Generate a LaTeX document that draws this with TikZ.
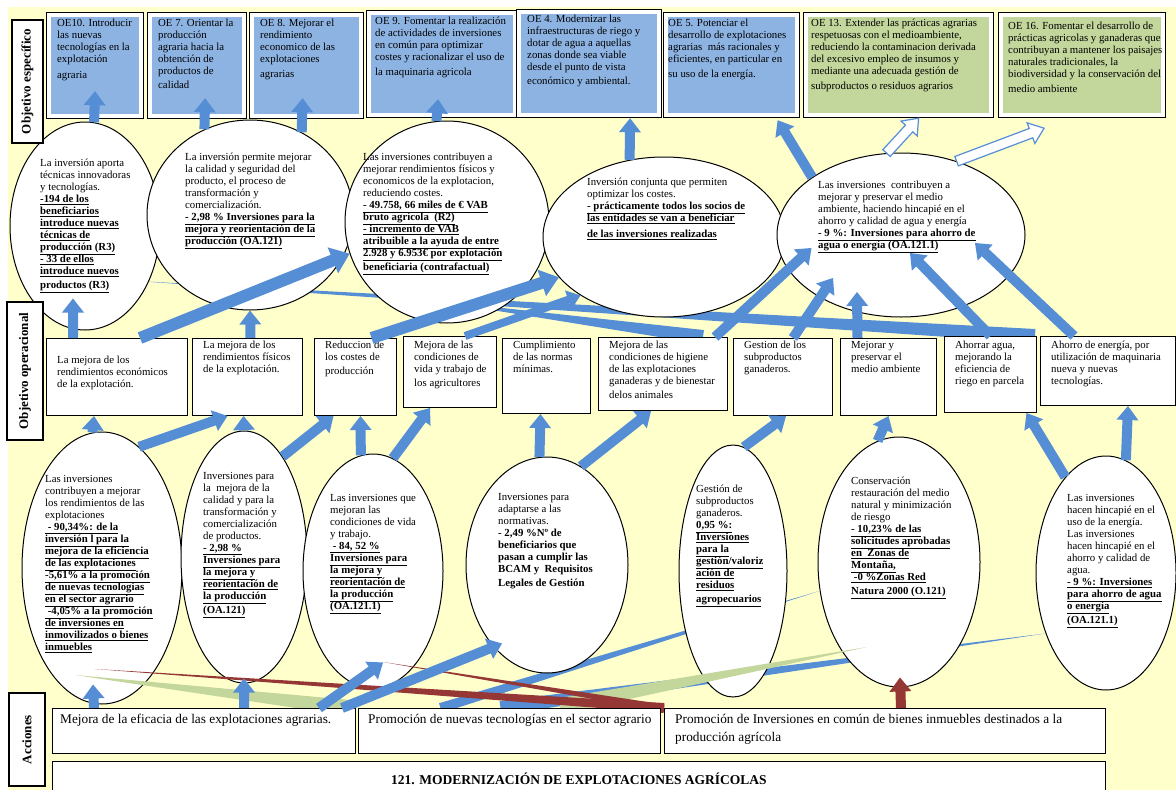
\documentclass[tikz,border=0pt]{standalone}
\usepackage{fontspec}
\setmainfont{Liberation Serif}
\usetikzlibrary{arrows.meta,positioning,shapes.geometric,calc}
\definecolor{bgyellow}{HTML}{FFFFCC}
\definecolor{oeblue}{HTML}{8DB3E2}
\definecolor{oegreen}{HTML}{C3D69B}
\definecolor{arrowblue}{HTML}{558ED5}
\definecolor{darkred}{HTML}{953735}

\pgfdeclarelayer{back}
\pgfdeclarelayer{wedges}
\pgfdeclarelayer{ovals}
\pgfdeclarelayer{topwedges}
\pgfsetlayers{back,wedges,ovals,topwedges,main}

\newcommand{\bul}[1]{\underline{\textbf{#1}}}

% sizes of the block arrows
\def\bashaft{5pt}\def\bahead{11pt}\def\bahl{14pt}
\tikzset{
  bapaint/.style={fill=arrowblue},
  ba shaft/.code={\def\bashaft{#1}},
  ba head/.code={\def\bahead{#1}},
  ba headlen/.code={\def\bahl{#1}},
  hollow/.style={bapaint/.style={fill=white, draw=arrowblue, line width=1.2pt}},
  redarrow/.style={bapaint/.style={fill=darkred}},
  bigarrow/.style={ba shaft=6pt, ba head=14pt, ba headlen=18pt},
  slimarrow/.style={ba shaft=4pt, ba head=10pt, ba headlen=13pt},
  txt/.style={font=\fontsize{10.8}{12}\selectfont, align=left, inner sep=0pt, anchor=north west},
  atxt/.style={font=\fontsize{13.3}{18}\selectfont, align=left, inner sep=0pt, anchor=north west},
  oebox/.style={draw, line width=1.2pt, fill=white, anchor=north west, inner sep=0pt},
  obox/.style={draw, line width=1pt, fill=white, anchor=north west, inner sep=0pt},
  oval/.style={ellipse, draw, line width=1pt, fill=white, inner sep=0pt},
  lab/.style={draw, line width=1.2pt, fill=white, rotate=90, inner sep=0pt,
    font=\fontsize{13}{15}\selectfont\bfseries},
}

% block arrow from #2 to #3
\newcommand{\blockarr}[3][]{%
  \begin{scope}[#1]
    \coordinate (ba-s) at (#2);
    \coordinate (ba-e) at (#3);
    \coordinate (ba-c) at ($(ba-e)!\bahl!(ba-s)$);
    \path[bapaint] ($(ba-s)!\bashaft!90:(ba-e)$) -- ($(ba-c)!\bashaft!90:(ba-e)$)
      -- ($(ba-c)!\bahead!90:(ba-e)$) -- (ba-e)
      -- ($(ba-c)!\bahead!-90:(ba-e)$) -- ($(ba-c)!\bashaft!-90:(ba-e)$)
      -- ($(ba-s)!\bashaft!-90:(ba-e)$) -- cycle;
  \end{scope}}

% tapered band: thin end #2, wide end #3, half width #4
\newcommand{\taper}[4][fill=arrowblue]{%
  \coordinate (tp-p) at (#2);
  \coordinate (tp-q) at (#3);
  \fill[#1] (tp-p) -- ($(tp-q)!#4!90:(tp-p)$) -- ($(tp-q)!#4!-90:(tp-p)$) -- cycle;}

\begin{document}
\begin{tikzpicture}[x=1pt, y=-1pt]
  \useasboundingbox (0,0) rectangle (1176,790);
  \begin{pgfonlayer}{back}
    \fill[white] (0,0) rectangle (1176,790);
    \fill[bgyellow] (8,7) rectangle (1176,790);
  \end{pgfonlayer}

  % side labels
  \node[lab, minimum width=123, minimum height=31] (labesp) at (27.5,81.5) {Objetivo específico};
  \node[lab, minimum width=138, minimum height=36] (labop) at (25,371) {Objetivo operacional};
  \node[lab, minimum width=93, minimum height=36] (labacc) at (27,739.5) {Acciones};

  % objetivos especificos
  \node[oebox, minimum width=97, minimum height=106] (oe10) at (46,12) {};
  \node[oebox, minimum width=99, minimum height=106] (oe7) at (147,12) {};
  \node[oebox, minimum width=114, minimum height=106] (oe8) at (249,12) {};
  \node[oebox, minimum width=151, minimum height=107] (oe9) at (366,10) {};
  \node[oebox, minimum width=145, minimum height=108] (oe4) at (516,9) {};
  \node[oebox, minimum width=136, minimum height=105] (oe5) at (663,12) {};
  \node[oebox, minimum width=190, minimum height=105] (oe13) at (803,12) {};
  \node[oebox, minimum width=167, minimum height=105] (oe16) at (998,12) {};
  \foreach \b in {oe10,oe7,oe8,oe9,oe4,oe5}
    \fill[oeblue] ($(\b.north west)+(5,5)$) rectangle ($(\b.south east)+(-5,-5)$);
  \foreach \b in {oe13,oe16}
    \fill[oegreen] ($(\b.north west)+(5,5)$) rectangle ($(\b.south east)+(-5,-5)$);
  \node[txt] (oe10t) at (57,19) {OE10. Introducir\\las nuevas\\tecnologías en la\\explotación\\[4pt]agraria};
  \node[txt] (oe7t) at (158,19) {OE 7. Orientar la\\producción\\agraria hacia la\\obtención de\\productos de\\[2pt]calidad};
  \node[txt] (oe8t) at (260,19) {OE 8. Mejorar el\\rendimiento\\economico de las\\explotaciones\\[3pt]agrarias};
  \node[txt] (oe9t) at (375,17) {OE 9. Fomentar la realización\\de actividades de inversiones\\en común para optimizar\\costes y racionalizar el uso de\\[3pt]la maquinaria agricola};
  \node[txt] (oe4t) at (527,15) {OE 4. Modernizar las\\infraestructuras de riego y\\dotar de agua a aquellas\\zonas donde sea viable\\desde el punto de vista\\[2pt]económico y ambiental.};
  \node[txt] (oe5t) at (668,19) {OE 5. Potenciar el\\desarrollo de explotaciones\\agrarias\ \ más racionales y\\eficientes, en particular en\\[3pt]su uso de la energía.};
  \node[txt] (oe13t) at (811,19) {OE 13. Extender las prácticas agrarias\\respetuosas con el medioambiente,\\reduciendo la contaminacion derivada\\del excesivo empleo de insumos y\\mediante una adecuada gestión de\\[3pt]subproductos o residuos agrarios};
  \node[txt] (oe16t) at (1008,22) {OE 16. Fomentar el desarrollo de\\prácticas agricolas y ganaderas que\\contribuyan a mantener los paisajes\\naturales tradicionales, la\\biodiversidad y la conservación del\\[3pt]medio ambiente};

  % resultados (ovals)
  \begin{pgfonlayer}{ovals}
    \node[oval, minimum width=150, minimum height=208] (e1) at (85,226) {};
    \node[oval, minimum width=206, minimum height=190] (e2) at (250,215) {};
    \node[oval, minimum width=204, minimum height=202] (e3) at (447,222) {};
    \node[oval, minimum width=242, minimum height=160] (e4) at (664,237) {};
    \node[oval, minimum width=248, minimum height=164] (e5) at (901,235) {};
    \node[oval, minimum width=160, minimum height=272] (l1) at (102,568) {};
    \node[oval, minimum width=126, minimum height=252] (l2) at (244,557) {};
    \node[oval, minimum width=140, minimum height=234] (l3) at (373,571) {};
    \node[oval, minimum width=162, minimum height=216] (l4) at (547,565) {};
    \node[oval, minimum width=108, minimum height=252] (l5) at (733,571) {};
    \node[oval, minimum width=162, minimum height=250] (l6) at (899,562) {};
    \node[oval, minimum width=140, minimum height=234] (l7) at (1106,573) {};
  \end{pgfonlayer}
  \node[txt] (e1t) at (40,159) {La inversión aporta\\técnicas innovadoras\\y tecnologías.\\\bul{-194 de los}\\\bul{beneficiarios}\\\bul{introduce nuevas}\\\bul{técnicas de}\\\bul{producción (R3)}\\\bul{- 33 de ellos}\\\bul{introduce nuevos}\\[2pt]\bul{productos (R3)}};
  \node[txt] (e2t) at (185,153) {La inversión permite mejorar\\la calidad y seguridad del\\producto, el proceso de\\transformación y\\comercialización.\\\bul{- 2,98 \% Inversiones para la}\\\bul{mejora y reorientación de la}\\\bul{producción (OA.121)}};
  \node[txt] (e3t) at (363,153) {Las inversiones contribuyen a\\mejorar rendimientos físicos y\\economicos de la explotacion,\\reduciendo costes.\\\bul{- 49.758, 66 miles de € VAB}\\\bul{bruto agrícola\ \ (R2)}\\\bul{- incremento de VAB}\\\bul{atribuible a la ayuda de entre}\\\bul{2.928 y 6.953€ por explotación}\\[2pt]\bul{beneficiaria (contrafactual)}};
  \node[txt] (e4t) at (587,178) {Inversión conjunta que permiten\\optimizar los costes.\\\bul{- prácticamente todos los socios de}\\\bul{las entidades se van a beneficiar}\\[4pt]\bul{de las inversiones realizadas}};
  \node[txt] (e5t) at (818,181) {Las inversiones\ \ contribuyen a\\mejorar y preservar el medio\\ambiente, haciendo hincapié en el\\ahorro y calidad de agua y energía\\\bul{- 9 \%: Inversiones para ahorro de}\\\bul{agua o energía (OA.121.1)}};

  % objetivos operacionales
  \node[obox, minimum width=141, minimum height=77] (b1) at (46,338) {};
  \node[obox, minimum width=110, minimum height=77] (b2) at (192,338) {};
  \node[obox, minimum width=82, minimum height=77] (b3) at (314,338) {};
  \node[obox, minimum width=93, minimum height=71] (b4) at (403,336) {};
  \node[obox, minimum width=88, minimum height=75] (b5) at (502,338) {};
  \node[obox, minimum width=129, minimum height=73] (b6) at (598,337) {};
  \node[obox, minimum width=99, minimum height=77] (b7) at (733,338) {};
  \node[obox, minimum width=96, minimum height=77] (b8) at (840,338) {};
  \node[obox, minimum width=92, minimum height=76] (b9) at (944,336) {};
  \node[obox, minimum width=135, minimum height=69] (b10) at (1040,336) {};
  \node[txt] (b1t) at (57,356) {La mejora de los\\rendimientos económicos\\de la explotación.};
  \node[txt] (b2t) at (203,341) {La mejora de los\\rendimientos físicos\\de la explotación.};
  \node[txt] (b3t) at (325,341) {Reduccion de\\los costes de\\[2pt]producción};
  \node[txt] (b4t) at (414,341) {Mejora de las\\condiciones de\\vida y trabajo de\\[2pt]los agricultores};
  \node[txt] (b5t) at (513,341) {Cumplimiento\\de las normas\\mínimas.};
  \node[txt] (b6t) at (609,341) {Mejora de las\\condiciones de higiene\\de las explotaciones\\ganaderas y de bienestar\\[2pt]delos animales};
  \node[txt] (b7t) at (744,341) {Gestion de los\\subproductos\\ganaderos.};
  \node[txt] (b8t) at (851,341) {Mejorar y\\preservar el\\medio ambiente};
  \node[txt] (b9t) at (955,341) {Ahorrar agua,\\mejorando la\\eficiencia de\\riego en parcela};
  \node[txt] (b10t) at (1051,341) {Ahorro de energía, por\\utilización de maquinaria\\nueva y nuevas\\tecnologías.};

  % realizaciones
  \node[txt] (l1t) at (45,475) {Las inversiones\\contribuyen a mejorar\\los rendimientos de las\\explotaciones\\\bul{\ - 90,34\%: de la}\\\bul{inversión l para la}\\\bul{mejora de la eficiencia}\\\bul{de las explotaciones}\\\bul{-5,61\% a la promoción}\\\bul{de nuevas tecnologías}\\\bul{en el sector agrario}\\\bul{\ -4,05\% a la promoción}\\\bul{de inversiones en}\\\bul{inmovilizados o bienes}\\\bul{inmuebles}};
  \node[txt] (l2t) at (203,472) {Inversiones para\\la\ \ mejora de la\\calidad y para la\\transformación y\\comercialización\\de productos.\\\bul{- 2,98 \%}\\\bul{Inversiones para}\\\bul{la mejora y}\\\bul{reorientación de}\\\bul{la producción}\\[2pt]\bul{(OA.121)}};
  \node[txt] (l3t) at (330,494) {Las inversiones que\\mejoran las\\condiciones de vida\\y trabajo.\\\bul{\ - 84, 52 \%}\\\bul{Inversiones para}\\\bul{la mejora y}\\\bul{reorientación de}\\\bul{la producción}\\\bul{(OA.121.1)}};
  \node[txt] (l4t) at (498,493) {Inversiones para\\adaptarse a las\\normativas.\\\textbf{- 2,49 \%Nº de}\\\textbf{beneficiarios que}\\\textbf{pasan a cumplir las}\\\textbf{BCAM y\ \ Requisitos}\\[2pt]\textbf{Legales de Gestión}};
  \node[txt] (l5t) at (696,485) {Gestión de\\subproductos\\ganaderos.\\\bul{0,95 \%:}\\\bul{Inversiones}\\\bul{para la}\\\bul{gestión/valoriz}\\\bul{ación de}\\\bul{residuos}\\[2pt]\bul{agropecuarios}};
  \node[txt] (l6t) at (851,477) {Conservación\\restauración del medio\\natural y minimización\\de riesgo\\\bul{- 10,23\% de las}\\\bul{solicitudes aprobadas}\\\bul{en\ \ Zonas de}\\\bul{Montaña,}\\\bul{\ -0 \%Zonas Red}\\[2pt]\bul{Natura 2000 (O.121)}};
  \node[txt] (l7t) at (1067,494) {Las inversiones\\hacen hincapié en el\\uso de la energía.\\Las inversiones\\hacen hincapié en el\\ahorro y calidad de\\agua.\\\bul{- 9 \%: Inversiones}\\\bul{para ahorro de agua}\\\bul{o energía}\\[2pt]\bul{(OA.121.1)}};

  % acciones
  \node[obox, minimum width=303, minimum height=45] (a1) at (52,708) {};
  \node[obox, minimum width=302, minimum height=45] (a2) at (358,708) {};
  \node[obox, minimum width=441, minimum height=45] (a3) at (664,708) {};
  \node[atxt] (a1t) at (60,714) {Mejora de la eficacia de las explotaciones agrarias.};
  \node[atxt] (a2t) at (368,714) {Promoción de nuevas tecnologías en el sector agrario};
  \node[atxt] (a3t) at (675,714) {Promoción de Inversiones en común de bienes inmuebles destinados a la\\producción agrícola};
  \node[obox, minimum width=1053, minimum height=34, font=\fontsize{13.5}{16}\selectfont\bfseries] (medida) at (52,761) {121. MODERNIZACIÓN DE EXPLOTACIONES AGRÍCOLAS};

  % bands behind the ovals
  \begin{pgfonlayer}{wedges}
    \taper{[xshift=51pt,yshift=-55pt]e1.center}{[xshift=-5pt]b10.north west}{7pt}
    \taper{[xshift=-17pt,yshift=-78pt]e3.center}{[xshift=40pt]b6.north}{7pt}
    \taper{l6.200}{[xshift=-69pt]a2.north}{5pt}
    \taper{l7.225}{[xshift=-9pt]a2.north}{7pt}
  \end{pgfonlayer}
  \begin{pgfonlayer}{topwedges}
    \taper[fill=oegreen]{[xshift=-27pt,yshift=-107pt]l1.center}{[xshift=-8pt]a2.north west}{8pt}
    \taper[fill=oegreen]{[xshift=-32pt,yshift=-85pt]l6.center}{[xshift=-104pt,yshift=2pt]a3.north west}{8pt}
    \taper[fill=darkred]{[xshift=-7pt,yshift=-101pt]l1.center}{a3.north west}{5pt}
    \taper[fill=darkred]{[xshift=10pt,yshift=-91pt]l3.center}{a3.north west}{3.5pt}
  \end{pgfonlayer}

  % ovals -> objetivos especificos
  \blockarr{e1.85}{[yshift=28pt]oe10.south}
  \blockarr{e2.118}{[xshift=8pt,yshift=21pt]oe7.south}
  \blockarr{e2.58}{[xshift=-4pt,yshift=21pt]oe8.south}
  \blockarr{e3.96}{[xshift=-4pt,yshift=19pt]oe9.south}
  \blockarr{e4.114}{[xshift=41pt]oe4.south}
  \blockarr{e5.147}{[xshift=46pt,yshift=-2pt]oe5.south}
  \blockarr[hollow]{e5.100}{[xshift=20pt]oe13.south}
  \blockarr[hollow]{e5.53}{[xshift=-38pt,yshift=-10pt]oe16.south}

  % objetivos operacionales -> ovals
  \blockarr{[xshift=-44pt]b1.north}{[xshift=-12pt,yshift=32pt]e1.south}
  \blockarr[bigarrow]{[xshift=23pt]b1.north}{e3.198}
  \blockarr{[xshift=3pt]b2.north}{e2.south}
  \blockarr[bigarrow]{[xshift=16pt]b3.north}{e4.201}
  \blockarr[slimarrow]{[xshift=15pt]b4.north}{e4.215}
  \blockarr{[xshift=52pt]b6.north}{[xshift=35pt,yshift=-13pt]e5.west}
  \blockarr{[xshift=10pt]b7.north}{[xshift=-68pt,yshift=-43pt]e5.center}
  \blockarr{[xshift=-31pt]b8.north}{[xshift=-44pt,yshift=-57pt]e5.center}
  \blockarr{b9.north}{[xshift=9pt,yshift=-18pt]e5.center}
  \blockarr{[xshift=-34pt]b10.north}{[xshift=74pt,yshift=-8pt]e5.center}

  % realizaciones -> objetivos operacionales
  \blockarr{l1.94}{[xshift=-23pt]b1.south}
  \blockarr{l1.73}{[xshift=-20pt]b2.south}
  \blockarr{l2.north}{[xshift=-4pt]b2.south}
  \blockarr{l2.69}{[xshift=-22pt]b3.south}
  \blockarr{l3.96}{[xshift=5pt]b3.south}
  \blockarr{l3.80}{[xshift=-20pt]b4.south}
  \blockarr{l4.94}{[xshift=-6pt]b5.south}
  \blockarr{l4.71}{[xshift=-12pt]b6.south}
  \blockarr{l5.85}{[xshift=3pt]b7.south}
  \blockarr{l6.100}{b8.south}
  \blockarr{l7.113}{[xshift=36pt]b9.south}
  \blockarr{l7.80}{[xshift=20pt]b10.south}

  % acciones -> realizaciones
  \blockarr{[xshift=-110pt]a1.north}{[xshift=-9pt,yshift=20pt]l1.south}
  \blockarr{[xshift=40pt]a1.north}{[yshift=5pt]l2.south}
  \blockarr{[xshift=115pt]a1.north}{[xshift=10pt,yshift=26pt]l3.south}
  \blockarr{[xshift=138pt]a1.north}{[xshift=-45pt,yshift=30pt]l4.south}
  \blockarr[redarrow]{[xshift=16pt]a3.north}{[xshift=1pt,yshift=10pt]l6.south}
\end{tikzpicture}
\end{document}
